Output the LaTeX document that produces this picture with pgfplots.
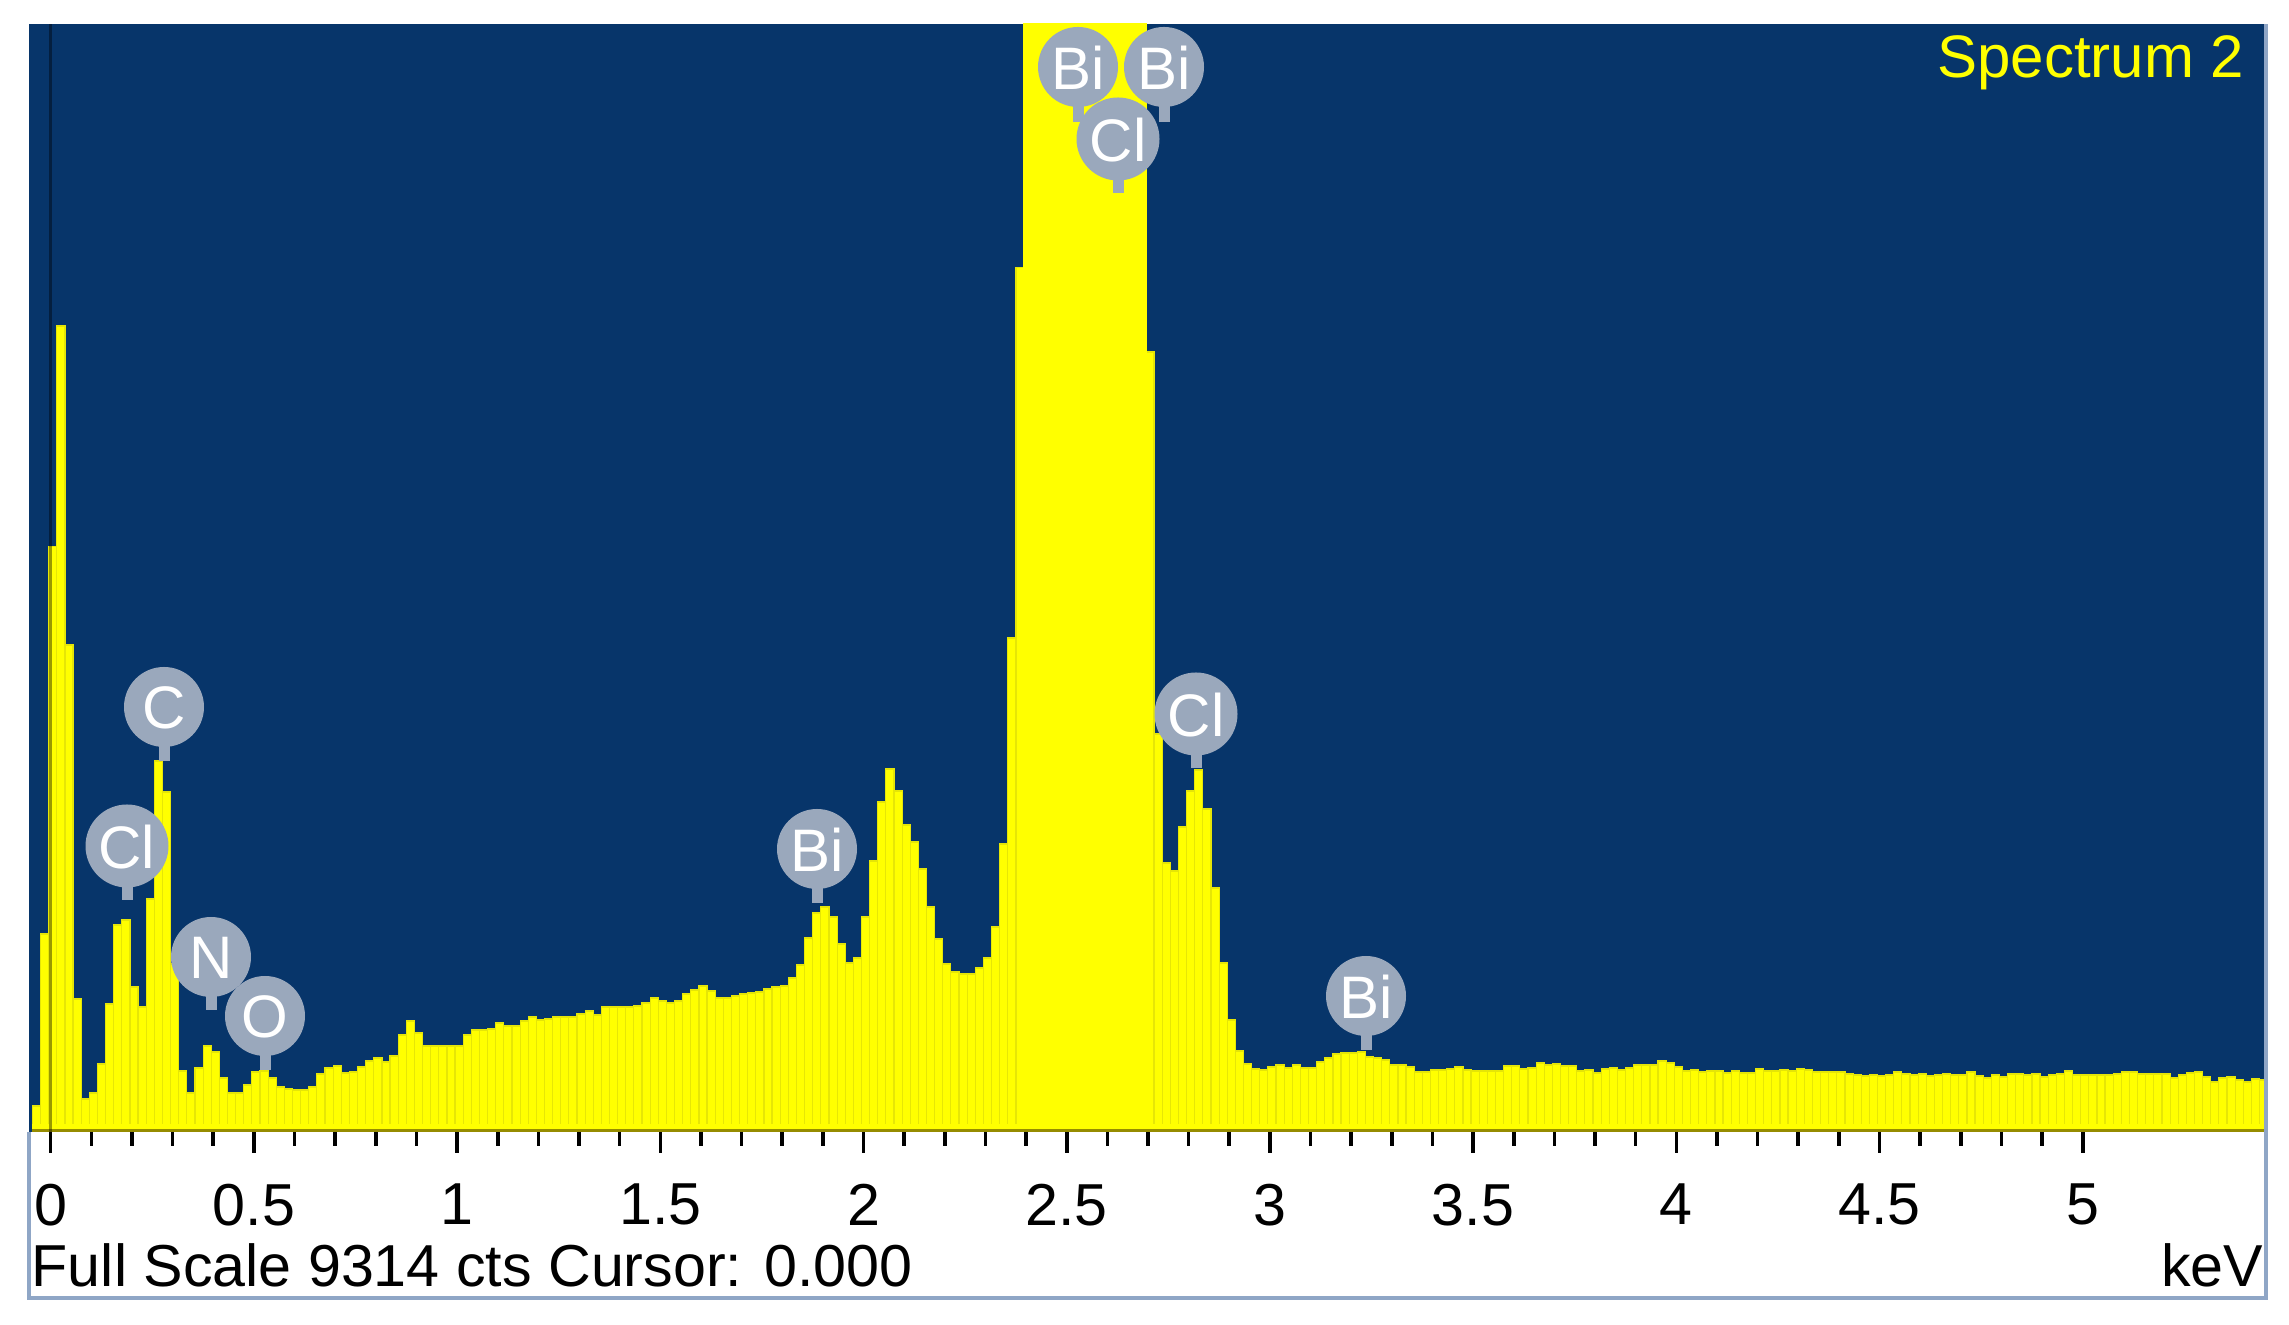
\documentclass[border=0pt]{standalone}
\usepackage{pgfplots}
\usepackage{fontspec}
\setmainfont{Liberation Sans}
\pgfplotsset{compat=1.18}
\definecolor{navy}{HTML}{07356A}
\definecolor{yel}{HTML}{FFFF00}
\definecolor{yedge}{HTML}{E6E606}
\definecolor{bub}{HTML}{9AA8BC}
\definecolor{frame}{HTML}{8FA6C6}
\newcommand{\lab}{\fontsize{14.8}{17}\selectfont}
\newcommand{\bubble}[5]{% x y stem-bottom diameter text
  \fill[bub] (#1-5.5,#2) rectangle (#1+5.5,#3);
  \fill[bub] (#1,#2) circle[radius=#4/2];
  \node[text=white,inner sep=0pt,font=\fontsize{15}{17}\selectfont] at (#1,#2+1) {#5};
}
\begin{document}
\begin{tikzpicture}
\path[use as bounding box] (0,0) rectangle (572.25pt,331.25pt);
\begin{axis}[
  at={(7.25pt,48.25pt)}, anchor=south west,
  scale only axis, width=559.25pt, height=277pt,
  xmin=-0.0534, xmax=5.451, ymin=-17, ymax=9314,
  axis background/.style={fill=navy},
  axis line style={draw=none},
  ytick=\empty,
  xtick={0,0.5,1,1.5,2,2.5,3,3.5,4,4.5,5},
  xticklabels={0,0.5,1,1.5,2,2.5,3,3.5,4,4.5,5},
  minor x tick num=4,
  xtick pos=lower, tick align=outside,
  major tick length=5.25pt, minor tick length=3.5pt,
  tick style={black,line width=0.9pt},
  xticklabel style={font=\lab,yshift=-4.2pt},
  ybar, bar width=0.02,
]
\addplot[bar shift=0pt,fill=yel,draw=yedge,line width=0.3pt] table {
-0.035 202
-0.015 1650
0.005 4917
0.025 6770
0.045 4084
0.065 1103
0.085 261
0.105 312
0.125 556
0.145 1061
0.165 1726
0.185 1768
0.205 1204
0.225 1036
0.245 1945
0.265 3107
0.285 2846
0.305 1398
0.325 497
0.345 312
0.365 522
0.385 707
0.405 657
0.425 438
0.445 312
0.465 312
0.485 379
0.505 488
0.525 497
0.545 438
0.565 362
0.585 345
0.605 337
0.625 337
0.645 362
0.665 472
0.685 522
0.705 539
0.725 480
0.745 488
0.765 530
0.785 581
0.805 606
0.825 573
0.845 623
0.865 800
0.885 918
0.905 817
0.925 707
0.945 707
0.965 707
0.985 707
1.005 707
1.025 800
1.045 842
1.065 842
1.085 850
1.105 901
1.125 876
1.145 876
1.165 918
1.185 951
1.205 926
1.225 935
1.245 951
1.265 951
1.285 951
1.305 977
1.325 1002
1.345 968
1.365 1036
1.385 1036
1.405 1036
1.425 1036
1.445 1044
1.465 1069
1.485 1111
1.505 1086
1.525 1069
1.545 1086
1.565 1145
1.585 1179
1.605 1212
1.625 1170
1.645 1111
1.665 1111
1.685 1128
1.705 1145
1.725 1154
1.745 1162
1.765 1187
1.785 1204
1.805 1212
1.825 1280
1.845 1389
1.865 1617
1.885 1827
1.905 1878
1.925 1793
1.945 1566
1.965 1406
1.985 1448
2.005 1793
2.025 2265
2.045 2762
2.065 3040
2.085 2854
2.105 2568
2.125 2425
2.145 2198
2.165 1878
2.185 1608
2.205 1398
2.225 1330
2.245 1314
2.265 1314
2.285 1364
2.305 1448
2.325 1709
2.345 2408
2.365 4143
2.385 7266
2.705 6551
2.725 3334
2.745 2248
2.765 2181
2.785 2551
2.805 2854
2.825 3031
2.845 2703
2.865 2038
2.885 1406
2.905 926
2.925 665
2.945 556
2.965 514
2.985 505
3.005 530
3.025 547
3.045 522
3.065 547
3.085 522
3.105 522
3.125 573
3.145 606
3.165 640
3.185 648
3.205 648
3.225 657
3.245 615
3.265 606
3.285 589
3.305 547
3.325 547
3.345 530
3.365 488
3.385 488
3.405 505
3.425 505
3.445 514
3.465 530
3.485 505
3.505 497
3.525 497
3.545 497
3.565 497
3.585 539
3.605 539
3.625 514
3.645 522
3.665 564
3.685 547
3.705 556
3.725 539
3.745 539
3.765 497
3.785 505
3.805 480
3.825 514
3.845 522
3.865 505
3.885 522
3.905 547
3.925 547
3.945 547
3.965 581
3.985 564
4.005 530
4.025 497
4.045 505
4.065 488
4.085 497
4.105 497
4.125 480
4.145 497
4.165 480
4.185 480
4.205 514
4.225 497
4.245 497
4.265 505
4.285 497
4.305 514
4.325 505
4.345 488
4.365 488
4.385 488
4.405 488
4.425 472
4.445 463
4.465 455
4.485 463
4.505 455
4.525 463
4.545 488
4.565 472
4.585 463
4.605 472
4.625 455
4.645 463
4.665 472
4.685 463
4.705 463
4.725 488
4.745 455
4.765 438
4.785 463
4.805 446
4.825 472
4.845 472
4.865 463
4.885 472
4.905 446
4.925 463
4.945 472
4.965 497
4.985 463
5.005 463
5.025 463
5.045 463
5.065 463
5.085 472
5.105 488
5.125 488
5.145 472
5.165 472
5.185 472
5.205 472
5.225 438
5.245 463
5.265 480
5.285 488
5.305 446
5.325 404
5.345 438
5.365 446
5.385 421
5.405 404
5.425 429
5.445 421
};
% bars above full scale run off the top of the panel
\addplot[bar shift=0pt,fill=yel,draw=yel,line width=0.3pt] table {
2.405 9314
2.425 9314
2.445 9314
2.465 9314
2.485 9314
2.505 9314
2.525 9314
2.545 9314
2.565 9314
2.585 9314
2.605 9314
2.625 9314
2.645 9314
2.665 9314
2.685 9314
};
\end{axis}
\begin{axis}[
  at={(7.25pt,48.25pt)}, anchor=south west,
  scale only axis, width=559.25pt, height=277pt,
  xmin=-0.0534, xmax=5.451, ymin=-17, ymax=9314,
  hide axis,
]
\addplot[yel,line width=1.1pt] coordinates {(-0.045,28) (5.451,28)};
\addplot[color={rgb,255:red,150;green,140;blue,0},line width=0.7pt] coordinates {(-0.045,-4) (5.451,-4)};
\addplot[black,opacity=0.4,line width=0.7pt] coordinates {(0,-17) (0,9314)};
\end{axis}
\begin{scope}[x=0.25pt,y=-0.25pt,yshift=331.25pt]
  % lower panel frame
  \draw[frame,line width=0.8pt] (29,1132) -- (29,1298) -- (2266,1298) -- (2266,24);
  % texts
  \node[anchor=base east,inner sep=0pt,text=yel,font=\fontsize{15}{17}\selectfont] at (2245,78) {Spectrum 2};
  \node[anchor=base west,inner sep=0pt,font=\lab] at (31,1287) {Full Scale 9314 cts Cursor: 0.000};
  \node[anchor=base east,inner sep=0pt,font=\lab] at (2264,1287) {keV};
  % element markers
  \bubble{164}{707}{761}{80}{C}
  \bubble{127}{846}{900}{83}{Cl}
  \bubble{211}{957}{1010}{80}{N}
  \bubble{265}{1016}{1070}{80}{O}
  \bubble{817}{849}{903}{80}{Bi}
  \bubble{1078}{67}{122}{80}{Bi}
  \bubble{1164}{67}{122}{80}{Bi}
  \bubble{1118}{139}{193}{83}{Cl}
  \bubble{1196}{714}{768}{83}{Cl}
  \bubble{1366}{996}{1050}{80}{Bi}
\end{scope}
\end{tikzpicture}
\end{document}
